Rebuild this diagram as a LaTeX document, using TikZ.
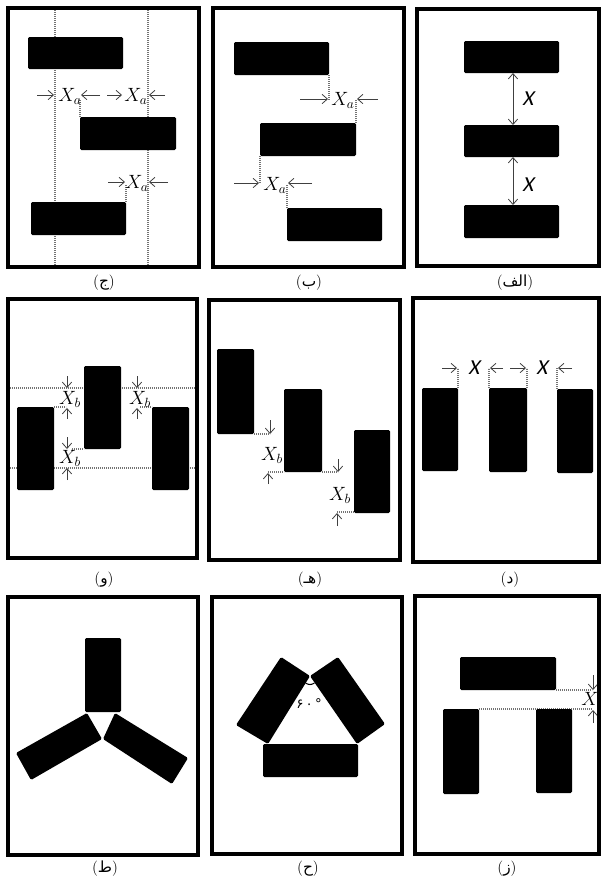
\documentclass[tikz,border=0pt]{standalone}
\usepackage{fontspec}
\usetikzlibrary{arrows.meta}
\TeXXeTstate=1
\newfontfamily\arabicfont[Script=Arabic]{DejaVu Sans}
\newfontfamily\plainfont{DejaVu Sans}
\newfontfamily\calfont[FakeSlant=0.2]{Carlito}
\begin{document}
\begin{tikzpicture}[x=0.75pt,y=-0.75pt,
  frm/.style={line width=2.5pt},
  blk/.style={fill=black, rounded corners=1pt},
  dotl/.style={draw=black!55, line width=0.8pt, dash pattern=on 0.8pt off 0.7pt},
  arr/.style={draw=black!75, line width=0.6pt, -{Straight Barb[length=4pt,width=7pt]}},
  darr/.style={draw=black!75, line width=0.6pt, {Straight Barb[length=4pt,width=7pt]}-{Straight Barb[length=4pt,width=7pt]}},
  xlab/.style={inner sep=0pt, font=\fontsize{14}{16}\selectfont},
  slab/.style={inner sep=0pt, font=\calfont\fontsize{16}{18}\selectfont},
  plbl/.style={inner sep=0pt, font=\fontsize{11.5}{13}\selectfont},
]
\useasboundingbox (0,0) rectangle (602,883);
\fill[white] (0,0) rectangle (602,883);

% ================= Row 1 =================
% --- panel (ج)
\draw[dotl] (55,8) -- (55,267);
\draw[dotl] (148,8) -- (148,267);
\draw[dotl] (80,117) -- (80,100);
\draw[dotl] (126,202) -- (126,185);
\path[blk] (28,37) rectangle (123,69);
\path[blk] (80,117) rectangle (176,150);
\path[blk] (31,202) rectangle (126,235);
\draw[arr] (37,95) -- (54,95);
\draw[arr] (100,95) -- (81,95);
\node[xlab] (ja1) at (70,96) {$X_a$};
\draw[arr] (107,95) -- (122,95);
\draw[arr] (165,95) -- (149,95);
\node[xlab] (ja2) at (136,96) {$X_a$};
\draw[arr] (108,182) -- (125,182);
\draw[arr] (168,182) -- (149,182);
\node[xlab] (ja3) at (137,183) {$X_a$};
\draw[frm] (8,8) rectangle (199,267);
\node[plbl] (lj) at (104,283) {({\arabicfont ج})};

% --- panel (ب)
\draw[dotl] (329,75) -- (329,100);
\draw[dotl] (356,123) -- (356,100);
\draw[dotl] (260,156) -- (260,183);
\draw[dotl] (287,208) -- (287,185);
\path[blk] (234,42) rectangle (329,75);
\path[blk] (260,123) rectangle (356,156);
\path[blk] (287,208) rectangle (382,241);
\draw[arr] (300,99) -- (328,99);
\draw[arr] (378,99) -- (357,99);
\node[xlab] (ba1) at (343,100) {$X_a$};
\draw[arr] (234,183) -- (259,183);
\draw[arr] (312,183) -- (288,183);
\node[xlab] (ba2) at (275,185) {$X_a$};
\draw[frm] (213,8) rectangle (404,267);
\node[plbl] (lb) at (309,283) {({\arabicfont ب})};

% --- panel (الف)
\path[blk] (464,41) rectangle (559,73);
\path[blk] (464,125) rectangle (559,157);
\path[blk] (464,205) rectangle (559,238);
\draw[darr] (513,73) -- (513,125);
\draw[darr] (513,157) -- (513,205);
\node[slab] (ax1) at (528,99) {X};
\node[slab] (ax2) at (528,185) {X};
\draw[frm] (417,9) rectangle (599,266);
\node[plbl] (la) at (515,283) {({\arabicfont\beginR الف\endR})};

% ================= Row 2 =================
% --- panel (و)
\draw[dotl] (8,388) -- (197,388);
\draw[dotl] (8,468) -- (197,468);
\draw[dotl] (54,407) -- (66,407);
\draw[dotl] (140,407) -- (152,407);
\draw[dotl] (72,449) -- (84,449);
\path[blk] (17,407) rectangle (54,490);
\path[blk] (84,366) rectangle (121,449);
\path[blk] (152,407) rectangle (189,490);
\draw[arr] (67,376) -- (67,388);
\draw[arr] (67,419) -- (67,408);
\node[xlab] (vx1) at (70,399) {$X_b$};
\draw[arr] (137,376) -- (137,388);
\draw[arr] (137,419) -- (137,408);
\node[xlab] (vx2) at (140,399) {$X_b$};
\draw[arr] (67,437) -- (67,449);
\draw[arr] (67,480) -- (67,468);
\node[xlab] (vx3) at (70,458) {$X_b$};
\draw[frm] (8,299) rectangle (197,558);
\node[plbl] (lv) at (104,580) {({\arabicfont و})};

% --- panel (هـ)
\draw[dotl] (254,434) -- (270,434);
\draw[dotl] (268,472) -- (284,472);
\draw[dotl] (322,472) -- (338,472);
\draw[dotl] (337,512) -- (354,512);
\path[blk] (217,349) rectangle (254,434);
\path[blk] (284,389) rectangle (322,472);
\path[blk] (354,430) rectangle (390,513);
\draw[arr] (270,420) -- (270,434);
\node[xlab] (hx1) at (272,455) {$X_b$};
\draw[arr] (268,484) -- (268,473);
\draw[arr] (338,459) -- (338,472);
\node[xlab] (hx2) at (340,495) {$X_b$};
\draw[arr] (337,526) -- (337,513);
\draw[frm] (209,300) rectangle (400,560);
\node[plbl] (lh) at (310,580) {({\arabicfont\beginR هـ\endR})};

% --- panel (د)
\draw[dotl] (458,388) -- (458,368);
\draw[dotl] (489,388) -- (489,368);
\draw[dotl] (527,388) -- (527,368);
\draw[dotl] (557,389) -- (557,368);
\path[blk] (422,388) rectangle (458,471);
\path[blk] (489,388) rectangle (527,472);
\path[blk] (557,389) rectangle (593,473);
\draw[arr] (442,368) -- (457,368);
\draw[arr] (503,368) -- (490,368);
\node[slab] (dx1) at (474,368) {X};
\draw[arr] (510,368) -- (526,368);
\draw[arr] (572,368) -- (558,368);
\node[slab] (dx2) at (542,368) {X};
\draw[frm] (413,298) rectangle (599,562);
\node[plbl] (ld) at (510,580) {({\arabicfont د})};

% ================= Row 3 =================
% --- panel (ط)
\path[blk] (85,638) rectangle (121,712);
\path[blk] (16,753) -- (87,713) -- (102,739) -- (31,780) -- cycle;
\path[blk] (115,713) -- (188,758) -- (172,784) -- (103,739) -- cycle;
\draw[frm] (8,597) rectangle (198,855);
\node[plbl] (lt) at (105,869) {({\arabicfont ط})};

% --- panel (ح)
\path[blk] (281,657) -- (310,676) -- (268,744) -- (236,725) -- cycle;
\path[blk] (338,657) -- (385,724) -- (357,744) -- (310,676) -- cycle;
\path[blk] (263,744) rectangle (358,777);
\draw[line width=0.8pt] (305.5,683) .. controls (308.5,685) and (311.5,685) .. (314.5,683);
\node[inner sep=0pt, font=\plainfont\fontsize{10}{12}\selectfont] (ang) at (309,704) {۶\,۰\,°};
\draw[frm] (212,597) rectangle (402,854);
\node[plbl] (lhh) at (308,869) {({\arabicfont ح})};

% --- panel (ز)
\draw[dotl] (556,690) -- (592,690);
\draw[dotl] (479,709) -- (592,709);
\path[blk] (460,657) rectangle (556,690);
\path[blk] (443,709) rectangle (479,794);
\path[blk] (536,709) rectangle (572,793);
\draw[arr] (593,675) -- (593,690);
\draw[arr] (593,723) -- (593,710);
\node[xlab] (zx) at (590,699) {$X$};
\draw[frm] (415,596) rectangle (599,854);
\node[plbl] (lz) at (507,869) {({\arabicfont ز})};
\end{tikzpicture}
\end{document}
